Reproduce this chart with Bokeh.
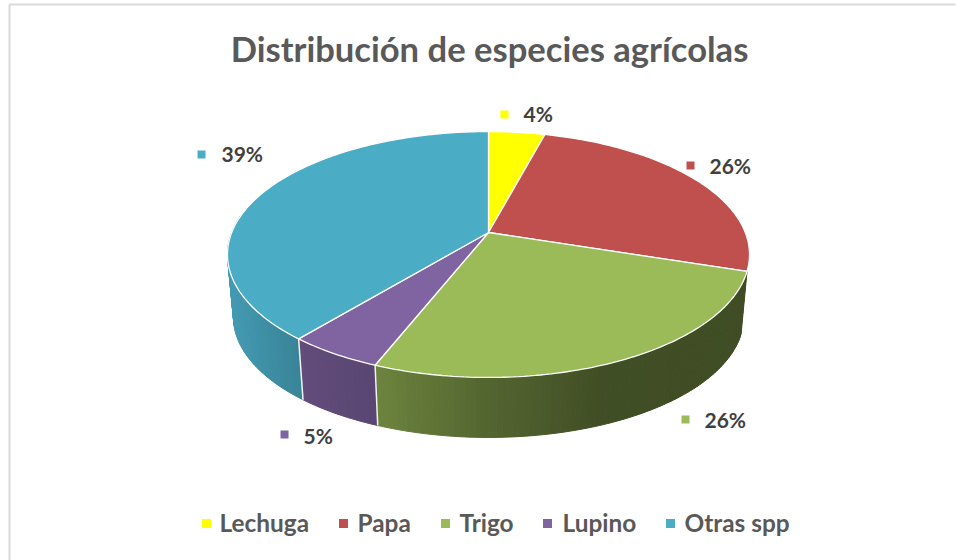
import math
from bokeh.embed import file_html
from bokeh.models import Range1d
from bokeh.plotting import figure
from bokeh.resources import INLINE
from bokeh.core.properties import value

# ---- data
categories = ["Lechuga", "Papa", "Trigo", "Lupino", "Otras spp"]
shares = [4.15, 25.85, 26, 5, 39]
share_labels = ["4%", "26%", "26%", "5%", "39%"]
colors = ["#FFFF00", "#C0504D", "#9BBB59", "#8064A2", "#4BACC6"]
title = "Distribución de especies agrícolas"

# ---- layout (pixels)
W, H = 956, 560
AX, AY = 488, 232            # apex of the pie on screen
PERSP, A_Y, D_X = 0.179, 119.0, 256.8
VP_X, VP_Y, DEPTH_S = 489.0, 2986.0, 0.977
label_text_x = [523, 709, 704, 303, 221]
label_text_y = [113, 165, 419, 435, 153]
label_mark_x = [504, 690, 685, 284, 201]
label_mark_y = [114, 165, 419, 434, 154]
legend_mark_x = [206, 343, 445, 547, 670]
legend_text_x = [219, 357, 459, 562, 684]
legend_y = 523
legend_text_y = 522
FONT = value("Lato")
# brightness of the side wall, by screen x
SHADE_X = [228, 300, 378, 480, 600, 760]
SHADE_F = [0.90, 0.76, 0.70, 0.55, 0.42, 0.41]


def rim(deg):
    a = math.radians(deg)
    u, v = math.sin(a), math.cos(a)
    den = 1 + PERSP * v
    return AX + D_X * u / den, AY - A_Y * v / den


def low(pt):
    return VP_X + DEPTH_S * (pt[0] - VP_X), VP_Y + DEPTH_S * (pt[1] - VP_Y)


def shade(hexcol, x):
    f = SHADE_F[-1]
    for i in range(len(SHADE_X) - 1):
        if x <= SHADE_X[i + 1]:
            t = max(0.0, (x - SHADE_X[i]) / (SHADE_X[i + 1] - SHADE_X[i]))
            f = SHADE_F[i] + t * (SHADE_F[i + 1] - SHADE_F[i])
            break
    r, g, b = (int(hexcol[j:j + 2], 16) for j in (1, 3, 5))
    return "#%02x%02x%02x" % (int(r * f), int(g * f), int(b * f))


p = figure(width=W, height=H, output_backend="svg", toolbar_location=None,
           x_axis_type=None, y_axis_type=None,
           x_range=Range1d(0, W), y_range=Range1d(H, 0),
           min_border=0, outline_line_color=None, background_fill_color="white")
p.styles = {"position": "absolute", "left": "0px", "top": "0px"}
p.grid.visible = False

# frame
p.line([9, 9, 955], [560, 4, 4], line_color="#D9D9D9", line_width=2)

# slice angles
total = sum(shares)
edges = [0.0]
for s in shares:
    edges.append(edges[-1] + 360.0 * s / total)

# side wall (the front slices only: the back ones are hidden by the top face)
sx, sy, sc = [], [], []
seps = []
for i, c in enumerate(colors):
    if i < 2:
        continue
    a0, a1 = edges[i], edges[i + 1]
    a0v, a1v = a0, min(a1, 280.0)
    n = max(1, int(a1v - a0v))
    for k in range(n):
        b0 = a0v + (a1v - a0v) * k / n
        b1 = a0v + (a1v - a0v) * (k + 1) / n
        t0, t1 = rim(b0), rim(b1)
        l0, l1 = low(t0), low(t1)
        sx.append([t0[0], t1[0], l1[0], l0[0]])
        sy.append([t0[1], t1[1], l1[1], l0[1]])
        sc.append(shade(c, (t0[0] + t1[0]) / 2))
    if 120 < a1 < 270:
        t = rim(a1)
        seps.append((t, low(t)))
p.patches(sx, sy, fill_color=sc, line_color=sc, line_width=1)
for t, l in seps:
    p.line([t[0], l[0]], [t[1], l[1]], line_color="#F2F2F2", line_width=1.5)

# top faces
for i, c in enumerate(colors):
    a0, a1 = edges[i], edges[i + 1]
    n = max(2, int(a1 - a0))
    pts = [rim(a0 + (a1 - a0) * k / n) for k in range(n + 1)]
    xs = [AX] + [q[0] for q in pts]
    ys = [AY] + [q[1] for q in pts]
    p.patch(xs, ys, fill_color=c, line_color="white", line_width=1.3)

# title
p.text([489], [48], text=[title], text_font=FONT, text_font_style="bold",
       text_font_size="34.6px", text_color="#595959",
       text_align="center", text_baseline="middle")

# data labels
p.scatter(label_mark_x, label_mark_y, marker="square", size=8, color=colors, line_color=None)
p.text(label_text_x, label_text_y, text=share_labels, text_font=FONT,
       text_font_style="bold", text_font_size="21px", text_color="#404040",
       text_align="left", text_baseline="middle")

# legend
p.scatter(legend_mark_x, [legend_y] * 5, marker="square", size=9, color=colors, line_color=None)
p.text(legend_text_x, [legend_text_y] * 5, text=categories, text_font=FONT,
       text_font_style="bold", text_font_size="24.4px", text_color="#595959",
       text_align="left", text_baseline="middle")

open("out.html", "w").write(file_html(p, INLINE))
